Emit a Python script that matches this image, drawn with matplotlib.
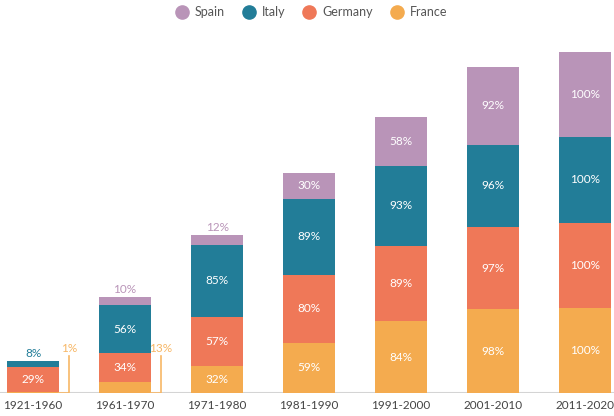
import numpy as np
import matplotlib.pyplot as plt
from matplotlib.lines import Line2D

plt.rcParams['font.family'] = ['Lato', 'DejaVu Sans']

# data
periods = ['1921-1960', '1961-1970', '1971-1980', '1981-1990', '1991-2000', '2001-2010', '2011-2020']
france = [1, 13, 32, 59, 84, 98, 100]
germany = [29, 34, 57, 80, 89, 97, 100]
italy = [8, 56, 85, 89, 93, 96, 100]
spain = [0, 10, 12, 30, 58, 92, 100]

series = [('France', france, '#f4ab4f'),
          ('Germany', germany, '#ef7858'),
          ('Italy', italy, '#227d98'),
          ('Spain', spain, '#b994b8')]

fig = plt.figure(figsize=(6.14, 4.16), dpi=100)
ax = fig.add_axes([0, 0.0553, 1, 0.8726])

x = np.arange(len(periods))
width = 0.57
bottom = np.zeros(len(periods))

for name, vals, color in series:
    vals = np.array(vals, dtype=float)
    ax.bar(x, vals, width, bottom=bottom, color=color, edgecolor='none', zorder=2)
    for i, v in enumerate(vals):
        if v == 0:
            continue
        if v >= 20:
            ax.text(x[i], bottom[i] + v / 2, f'{int(v)}%', ha='center', va='center',
                    color='white', fontsize=8.5)
        elif name == 'France':
            # bracket callout to the right of the bar
            bx = x[i] + 0.39
            ax.plot([x[i] + width / 2, bx, bx], [0, 0, 44], color='#f7b766', lw=1.2,
                    solid_joinstyle='miter', zorder=3)
            ax.text(bx, 46, f'{int(v)}%', ha='center', va='bottom', color='#f7b766', fontsize=8.5)
        else:
            ax.text(x[i], bottom[i] + v + 2, f'{int(v)}%', ha='center', va='bottom',
                    color=color, fontsize=8.5)
    bottom += vals

ax.axhline(0, color='#d4d4d4', lw=1.5, zorder=1)
ax.set_xlim(-0.36, 6.315)
ax.set_ylim(0, 426)
ax.axis('off')

for i, p in enumerate(periods):
    ax.text(x[i], -8, p, ha='center', va='top', color='#444444', fontsize=8.5)

handles = [Line2D([], [], marker='o', linestyle='none', markersize=9.5, color=c)
           for _, _, c in series[::-1]]
labels = [n for n, _, _ in series[::-1]]
fig.legend(handles, labels, loc='center', bbox_to_anchor=(0.502, 0.971), ncol=4,
           frameon=False, fontsize=9, handletextpad=0.05, columnspacing=0.9, labelcolor='#555555')

fig.savefig('out.png', dpi=100)
